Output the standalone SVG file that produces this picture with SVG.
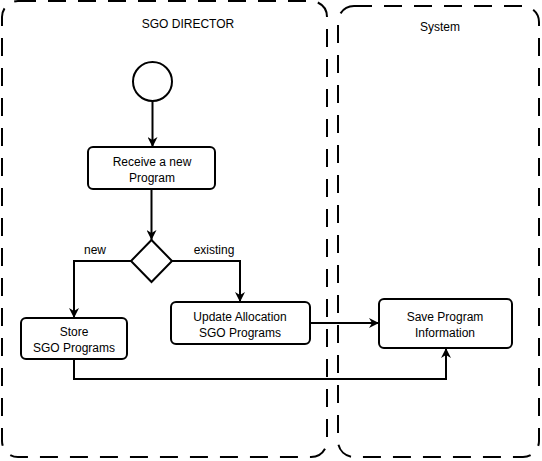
<svg xmlns="http://www.w3.org/2000/svg" width="542" height="461" viewBox="0 0 542 461">
<style>
.lane{fill:none;stroke:#000;stroke-width:2;stroke-dasharray:18 12}
.box{fill:#fff;stroke:#000;stroke-width:2}
.edge{fill:none;stroke:#000;stroke-width:2}
text{font-family:"Liberation Sans",Arial,sans-serif;font-size:12px;fill:#000;text-anchor:middle}
</style>
<defs>
<marker id="arr" viewBox="0 0 10 10" refX="10" refY="5" markerWidth="10" markerHeight="10" markerUnits="userSpaceOnUse" orient="auto">
<path d="M0,0 L10,5 L0,10 L3,5 Z" fill="#000"/>
</marker>
</defs>
<rect width="542" height="461" fill="#fff"/>
<g id="lane-director">
<rect class="lane" x="2" y="1" width="325" height="456" rx="16"/>
<text x="188" y="28">SGO DIRECTOR</text>
</g>
<g id="lane-system">
<rect class="lane" x="338" y="6" width="201" height="451" rx="16"/>
<text x="440" y="31">System</text>
</g>
<g id="connectors">
<path class="edge" d="M152.5,101 V147" marker-end="url(#arr)"/>
<path class="edge" d="M151.5,189 V240" marker-end="url(#arr)"/>
<path class="edge" d="M131,261 H74 V318" marker-end="url(#arr)"/>
<path class="edge" d="M172,261 H240 V302" marker-end="url(#arr)"/>
<path class="edge" d="M310,323 H379" marker-end="url(#arr)"/>
<path class="edge" d="M74,359 V379 H446 V348" marker-end="url(#arr)"/>
<text x="95" y="254">new</text>
<text x="214" y="254">existing</text>
</g>
<g id="start">
<circle class="box" cx="152.5" cy="81.5" r="19.5"/>
</g>
<g id="receive">
<rect class="box" x="88" y="147" width="127" height="42" rx="5"/>
<text x="152" y="166">Receive a new</text>
<text x="152" y="182">Program</text>
</g>
<g id="decision">
<path class="box" d="M151.5,240 L172,261 L151.5,282 L131,261 Z"/>
</g>
<g id="store">
<rect class="box" x="21" y="318" width="106" height="41" rx="5"/>
<text x="74" y="336">Store</text>
<text x="74" y="352">SGO Programs</text>
</g>
<g id="update">
<rect class="box" x="171" y="302" width="139" height="42" rx="5"/>
<text x="240" y="321">Update Allocation</text>
<text x="240" y="337">SGO Programs</text>
</g>
<g id="save">
<rect class="box" x="379" y="299" width="133" height="49" rx="5"/>
<text x="445" y="321">Save Program</text>
<text x="445" y="337">Information</text>
</g>
</svg>
